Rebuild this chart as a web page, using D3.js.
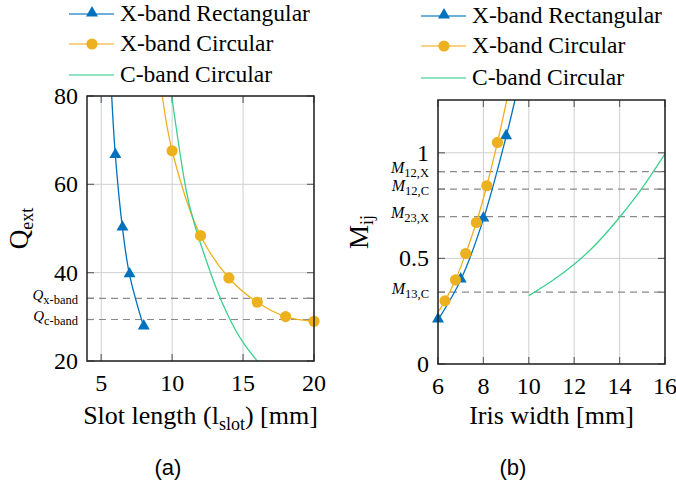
<!DOCTYPE html>
<html>
<head>
<meta charset="utf-8">
<script src="https://cdn.jsdelivr.net/npm/d3@7"></script>
<style>
  body { margin: 0; background: #fff; }
  svg { display: block; }
</style>
</head>
<body>
<svg id="fig" width="676" height="485" font-family="'Liberation Serif', 'DejaVu Serif', serif"></svg>
<script>
// ---- data: (a) external Q vs slot length ----
var slotTicks = [5, 10, 15, 20];
var qTicks = [20, 40, 60, 80];
var rectSlot = [6, 6.5, 7, 8];
var rectQ = [66.5, 50.1, 39.5, 27.7];
var rectSlotCurve = [5.74, 6, 6.5, 7, 8];
var rectQCurve = [80, 66.5, 50.1, 39.5, 27.7];
var circSlot = [10, 12, 14, 16, 18, 20];
var circQ = [67.6, 48.4, 38.8, 33.3, 30.05, 29.0];
var circSlotCurve = [9.31, 10, 12, 14, 16, 18, 20];
var circQCurve = [80, 67.6, 48.4, 38.8, 33.3, 30.05, 29.0];
var cbandSlot = [9.97, 11, 12, 13, 14, 15, 16];
var cbandQ = [80, 58.5, 46.6, 37.4, 29.9, 24.2, 20];
var qRefNames = ["x-band", "c-band"];
var qRefValues = [34.2, 29.4];

// ---- data: (b) coupling vs iris width ----
var irisTicks = [6, 8, 10, 12, 14, 16];
var mTicks = [0, 0.5, 1];
var mTickLabels = ["0", "0.5", "1"];
var rectIris = [6, 7, 8, 9];
var rectM = [0.2085, 0.398, 0.686, 1.076];
var rectIrisCurve = [6, 7, 8, 9, 9.39];
var rectMCurve = [0.2085, 0.398, 0.686, 1.076, 1.25];
var circIris = [6.31, 6.77, 7.22, 7.69, 8.15, 8.62];
var circM = [0.299, 0.398, 0.523, 0.670, 0.844, 1.049];
var circIrisCurve = [6, 6.31, 6.77, 7.22, 7.69, 8.15, 8.62, 9.03];
var circMCurve = [0.245, 0.299, 0.398, 0.523, 0.670, 0.844, 1.049, 1.25];
var cbandIris = [10, 11, 12, 13, 14, 15, 16];
var cbandM = [0.324, 0.392, 0.472, 0.572, 0.695, 0.834, 0.995];
var mRefNames = ["12,X", "12,C", "23,X", "13,C"];
var mRefValues = [0.911, 0.828, 0.698, 0.34];

var seriesNames = ["X-band Rectangular", "X-band Circular", "C-band Circular"];
var blue = "#0072bd", orange = "#edb120", green = "#3ccf8e";
var seriesColors = [blue, orange, green];

var svg = d3.select("#fig");

function zip(xs, ys) { return xs.map(function(x, i) { return [x, ys[i]]; }); }

function drawPanel(cfg) {
  var x = d3.scaleLinear().domain(cfg.xDomain).range([cfg.left, cfg.right]);
  var y = d3.scaleLinear().domain(cfg.yDomain).range([cfg.bottom, cfg.top]);
  var g = svg.append("g").attr("class", "panel-" + cfg.id);

  g.append("clipPath").attr("id", "clip-" + cfg.id)
    .append("rect")
      .attr("x", cfg.left).attr("y", cfg.top)
      .attr("width", cfg.right - cfg.left).attr("height", cfg.bottom - cfg.top);

  // grid
  g.selectAll(".gx").data(cfg.xTicks).enter().append("line")
    .attr("x1", function(d) { return x(d); }).attr("x2", function(d) { return x(d); })
    .attr("y1", cfg.top).attr("y2", cfg.bottom)
    .attr("stroke", "#cfcfcf").attr("stroke-width", 1);
  g.selectAll(".gy").data(cfg.yTicks).enter().append("line")
    .attr("y1", function(d) { return y(d); }).attr("y2", function(d) { return y(d); })
    .attr("x1", cfg.left).attr("x2", cfg.right)
    .attr("stroke", "#cfcfcf").attr("stroke-width", 1);

  // ticks inside, both sides
  var tl = 7;
  cfg.xTicks.forEach(function(t) {
    g.append("line").attr("x1", x(t)).attr("x2", x(t)).attr("y1", cfg.bottom).attr("y2", cfg.bottom - tl)
      .attr("stroke", "#666").attr("stroke-width", 1.2);
    g.append("line").attr("x1", x(t)).attr("x2", x(t)).attr("y1", cfg.top).attr("y2", cfg.top + tl)
      .attr("stroke", "#666").attr("stroke-width", 1.2);
  });
  cfg.yTicks.concat(cfg.refValues).forEach(function(t) {
    g.append("line").attr("y1", y(t)).attr("y2", y(t)).attr("x1", cfg.left).attr("x2", cfg.left + tl)
      .attr("stroke", "#666").attr("stroke-width", 1.2);
    g.append("line").attr("y1", y(t)).attr("y2", y(t)).attr("x1", cfg.right).attr("x2", cfg.right - tl)
      .attr("stroke", "#666").attr("stroke-width", 1.2);
  });

  // dashed reference lines
  g.selectAll(".ref").data(cfg.refValues).enter().append("line")
    .attr("x1", cfg.left).attr("x2", cfg.right)
    .attr("y1", function(d) { return y(d); }).attr("y2", function(d) { return y(d); })
    .attr("stroke", "#8a8a8a").attr("stroke-width", 1.2).attr("stroke-dasharray", "7,5");

  // curves
  var line = d3.line().x(function(d) { return x(d[0]); }).y(function(d) { return y(d[1]); });
  var curves = g.append("g").attr("clip-path", "url(#clip-" + cfg.id + ")");
  cfg.curves.forEach(function(c) {
    curves.append("path").attr("d", line.curve(c.curve)(c.pts)).attr("fill", "none")
      .attr("stroke", c.color).attr("stroke-width", 1.3);
  });

  // markers
  cfg.tri.forEach(function(p) {
    g.append("path").attr("d", d3.symbol().type(d3.symbolTriangle).size(62)())
      .attr("transform", "translate(" + x(p[0]) + "," + (y(p[1]) - 1) + ")").attr("fill", blue);
  });
  cfg.dots.forEach(function(p) {
    g.append("circle").attr("cx", x(p[0])).attr("cy", y(p[1])).attr("r", 5.6).attr("fill", orange);
  });

  // frame
  g.append("rect").attr("x", cfg.left).attr("y", cfg.top)
    .attr("width", cfg.right - cfg.left).attr("height", cfg.bottom - cfg.top)
    .attr("fill", "none").attr("stroke", "#222").attr("stroke-width", 1.5);

  // tick labels
  g.selectAll(".xl").data(cfg.xTicks).enter().append("text")
    .attr("x", function(d) { return x(d); }).attr("y", cfg.bottom + 30)
    .attr("text-anchor", "middle").attr("font-size", 24)
    .text(function(d) { return d; });
  g.selectAll(".yl").data(cfg.yTicks).enter().append("text")
    .attr("x", cfg.left - 9).attr("y", function(d) { return y(d) + 8; })
    .attr("text-anchor", "end").attr("font-size", 24)
    .text(function(d, i) { return cfg.yTickLabels[i]; });

  // reference labels
  cfg.refValues.forEach(function(v, i) {
    var t = g.append("text").attr("x", cfg.left - 9).attr("y", y(v) + 1.5).attr("text-anchor", "end");
    t.append("tspan").attr("font-style", "italic").attr("font-size", cfg.refMainSize).text(cfg.refMain);
    t.append("tspan").attr("font-size", 12.5).attr("dy", 4).text(cfg.refNames[i]);
  });

  // axis labels
  var xl = g.append("text").attr("x", (cfg.left + cfg.right) / 2).attr("y", 424)
    .attr("text-anchor", "middle").attr("font-size", 26);
  cfg.xLabel(xl);
  var cy = (cfg.top + cfg.bottom) / 2;
  var yl = g.append("text").attr("transform", "translate(" + cfg.yLabelX + "," + cy + ") rotate(-90)")
    .attr("text-anchor", "middle").attr("font-size", 27);
  cfg.yLabel(yl);

  g.append("text").attr("x", cfg.capX).attr("y", 475).attr("text-anchor", "middle")
    .attr("font-size", 22).attr("font-family", "'Liberation Sans', Arial, sans-serif")
    .text(cfg.caption);
}

function drawLegend(lx, rows) {
  var g = svg.append("g");
  seriesNames.forEach(function(name, i) {
    var ly = rows[i];
    g.append("line").attr("x1", lx).attr("x2", lx + 45).attr("y1", ly).attr("y2", ly)
      .attr("stroke", seriesColors[i]).attr("stroke-width", 1.3).attr("stroke-opacity", 0.75);
    if (i === 0) {
      g.append("path").attr("d", d3.symbol().type(d3.symbolTriangle).size(62)())
        .attr("transform", "translate(" + (lx + 23) + "," + (ly - 1) + ")").attr("fill", blue);
    } else if (i === 1) {
      g.append("circle").attr("cx", lx + 23).attr("cy", ly).attr("r", 5.6).attr("fill", orange);
    }
    g.append("text").attr("x", lx + 51).attr("y", ly + 7).attr("font-size", 23.5).text(name);
  });
}

var smooth = d3.curveCatmullRom.alpha(0.5);

drawPanel({
  id: "a", left: 87, right: 314, top: 96, bottom: 361,
  xDomain: [4, 20], yDomain: [20, 80],
  xTicks: slotTicks, yTicks: qTicks, yTickLabels: qTicks,
  refValues: qRefValues, refNames: qRefNames, refMain: "Q", refMainSize: 15,
  curves: [
    { pts: zip(rectSlotCurve, rectQCurve), color: blue, curve: smooth },
    { pts: zip(circSlotCurve, circQCurve), color: orange, curve: smooth },
    { pts: zip(cbandSlot, cbandQ), color: green, curve: d3.curveNatural }
  ],
  tri: zip(rectSlot, rectQ), dots: zip(circSlot, circQ),
  xLabel: function(t) {
    t.append("tspan").text("Slot length (l");
    t.append("tspan").attr("font-size", 18).attr("dy", 6).text("slot");
    t.append("tspan").attr("dy", -6).text(") [mm]");
  },
  yLabelX: 28,
  yLabel: function(t) {
    t.append("tspan").text("Q");
    t.append("tspan").attr("font-size", 18).attr("dy", 5).text("ext");
  },
  capX: 168, caption: "(a)"
});

drawPanel({
  id: "b", left: 438, right: 665, top: 100, bottom: 364,
  xDomain: [6, 16], yDomain: [0, 1.25],
  xTicks: irisTicks, yTicks: mTicks, yTickLabels: mTickLabels,
  refValues: mRefValues, refNames: mRefNames, refMain: "M", refMainSize: 16,
  curves: [
    { pts: zip(rectIrisCurve, rectMCurve), color: blue, curve: smooth },
    { pts: zip(circIrisCurve, circMCurve), color: orange, curve: smooth },
    { pts: zip(cbandIris, cbandM), color: green, curve: d3.curveNatural }
  ],
  tri: zip(rectIris, rectM), dots: zip(circIris, circM),
  xLabel: function(t) { t.text("Iris width [mm]"); },
  yLabelX: 368,
  yLabel: function(t) {
    t.append("tspan").text("M");
    t.append("tspan").attr("font-size", 18).attr("dy", 5).text("ij");
  },
  capX: 513, caption: "(b)"
});

drawLegend(69, [14, 44, 75]);
drawLegend(421, [16, 46, 78]);
</script>
</body>
</html>
